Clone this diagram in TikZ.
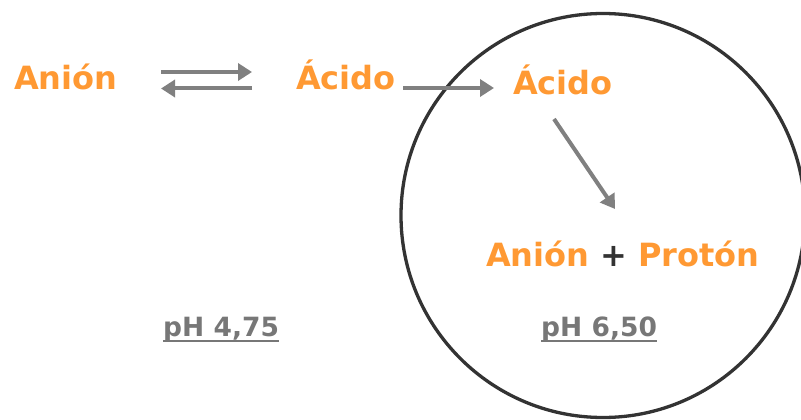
\documentclass[tikz,border=0pt]{standalone}
\usepackage{fontspec}
\setmainfont{DejaVu Sans}
\usetikzlibrary{arrows.meta}
\definecolor{orangetxt}{HTML}{FF9933}
\definecolor{arrowgray}{HTML}{808080}
\definecolor{phgray}{HTML}{777777}
\definecolor{ringcol}{HTML}{333333}
\begin{document}
\begin{tikzpicture}[x=1pt,y=-1pt,
  lbl/.style={inner sep=0pt,anchor=base west,text=orangetxt,font=\bfseries\fontsize{32}{36}\selectfont},
  phlbl/.style={inner sep=0pt,anchor=base west,text=phgray,font=\bfseries\fontsize{26.5}{30}\selectfont},
  arr/.style={draw=arrowgray,line width=4pt,-{Triangle[length=14pt,width=17pt]}},
  uline/.style={draw=phgray,line width=2pt}]
\useasboundingbox (0,0) rectangle (801,420);
% ring
\node[circle,draw=ringcol,line width=3.3pt,minimum size=404pt,inner sep=0pt] (cell) at (603,215.5) {};
% texts
\node[lbl] (an1) at (14,90) {Anión};
\node[lbl] (ac1) at (296,90) {Ácido};
\node[lbl] (ac2) at (513,95) {Ácido};
\node[lbl] (an2) at (486,266) {Anión};
\node[lbl,text=ringcol] (plus) at (600,266) {+};
\node[lbl] (pro) at (638,266) {Protón};
\node[phlbl] (ph1) at (163,336) {pH 4,75};
\node[phlbl] (ph2) at (541,336) {pH 6,50};
% underlines
\draw[uline] ([yshift=-4.5pt]ph1.base west) -- ([yshift=-4.5pt]ph1.base east);
\draw[uline] ([yshift=-4.5pt]ph2.base west) -- ([yshift=-4.5pt]ph2.base east);
% arrow end points
\coordinate (e1a) at (161,72);
\coordinate (e1b) at (252,72);
\coordinate (e2a) at (252,88.5);
\coordinate (e2b) at (161,88.5);
\coordinate (t1a) at (403,88);
\coordinate (t1b) at (494,88);
\coordinate (d1a) at (554,119);
\coordinate (d1b) at (615,209);
\draw[arr] (e1a) -- (e1b);
\draw[arr] (e2a) -- (e2b);
\draw[arr] (t1a) -- (t1b);
\draw[arr] (d1a) -- (d1b);
\end{tikzpicture}
\end{document}
